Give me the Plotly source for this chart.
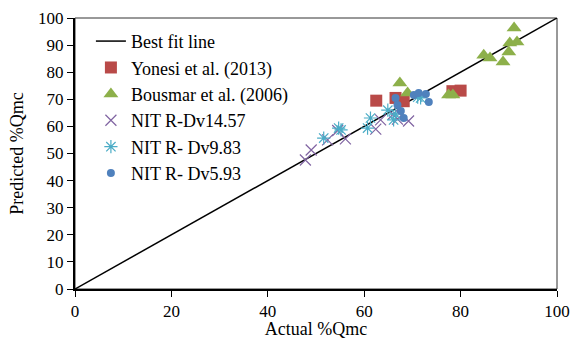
import plotly.graph_objects as go

fit_x = [0, 100]
fit_y = [0, 100]

yon_x = [62.5, 66.5, 68.2, 78.3, 80.0]
yon_y = [69.5, 70.5, 69.3, 73.0, 73.2]

bou_x = [67.4, 69.0, 77.5, 78.4, 84.8, 86.1, 88.8, 90.0, 90.2, 91.7, 91.1]
bou_y = [76.0, 72.3, 71.6, 71.6, 86.3, 85.2, 83.8, 87.5, 90.8, 91.1, 96.3]

n14_x = [47.8, 49.0, 52.4, 56.1, 62.4, 63.4, 66.9, 69.2, 54.5, 66.0]
n14_y = [47.6, 51.3, 55.0, 55.4, 59.0, 62.4, 62.7, 62.0, 58.5, 64.5]

n9_x = [51.6, 54.7, 55.2, 60.7, 61.3, 64.9, 66.1, 66.5, 71.1, 71.7]
n9_y = [55.7, 59.4, 58.7, 59.4, 63.1, 66.0, 62.4, 64.5, 70.8, 70.5]

n5_x = [66.5, 66.9, 67.6, 68.2, 70.3, 71.3, 72.8, 73.4]
n5_y = [70.5, 67.9, 65.7, 63.1, 71.6, 72.3, 72.0, 69.0]

FONT = "Liberation Serif"

fig = go.Figure()
fig.add_trace(go.Scatter(x=fit_x, y=fit_y, mode="lines", name="Best fit line",
                         line=dict(color="black", width=1.5), legendgroup="a"))
fig.add_trace(go.Scatter(x=yon_x, y=yon_y, mode="markers", name="Yonesi et al. (2013)",
                         marker=dict(symbol="square", size=12, color="#B94A48"), legendgroup="b"))
fig.add_trace(go.Scatter(x=bou_x, y=bou_y, mode="markers", name="Bousmar et al. (2006)",
                         marker=dict(symbol="triangle-up", size=13, color="#8DB04A"), legendgroup="c"))
fig.add_trace(go.Scatter(x=n14_x, y=n14_y, mode="markers", name="NIT R-Dv14.57",
                         marker=dict(symbol="x-thin-open", size=11, color="#8064A2",
                                     line=dict(color="#8064A2", width=1.2)), legendgroup="d"))
fig.add_trace(go.Scatter(x=n9_x, y=n9_y, mode="markers", name="NIT R- Dv9.83",
                         marker=dict(symbol="asterisk-open", size=11, color="#4BACC6",
                                     line=dict(color="#4BACC6", width=1.2)), legendgroup="e"))
fig.add_trace(go.Scatter(x=n5_x, y=n5_y, mode="markers", name="NIT R- Dv5.93",
                         marker=dict(symbol="circle", size=8, color="#4F81BD"), legendgroup="f"))

fig.update_layout(
    width=574, height=339,
    margin=dict(l=75, r=17, t=18, b=50),
    paper_bgcolor="white", plot_bgcolor="white",
    font=dict(family=FONT, size=17, color="black"),
    showlegend=True,
    legend=dict(x=0.033, y=0.982, xanchor="left", yanchor="top",
                bgcolor="rgba(0,0,0,0)", font=dict(size=18, family=FONT),
                tracegroupgap=0, itemwidth=30),
    xaxis=dict(range=[0, 100], tickvals=[0, 20, 40, 60, 80, 100], showgrid=False,
               zeroline=False, showline=True, linecolor="black", linewidth=2,
               ticks="outside", ticklen=6, tickcolor="black", automargin=False,
               title=dict(text="Actual %Qmc", standoff=7, font=dict(size=18, family=FONT)),
               tickfont=dict(size=17, family=FONT)),
    yaxis=dict(range=[0, 100], tickvals=list(range(0, 101, 10)), showgrid=False,
               zeroline=False, showline=True, linecolor="black", linewidth=2,
               ticks="outside", ticklen=6, tickcolor="black", automargin=False,
               title=dict(text="Predicted %Qmc", standoff=10, font=dict(size=18, family=FONT)),
               tickfont=dict(size=17, family=FONT)),
    shapes=[dict(type="rect", xref="paper", yref="paper", x0=0, y0=0, x1=1, y1=1,
                 line=dict(color="#333333", width=1), layer="below")],
)

fig.write_html("out.html")
